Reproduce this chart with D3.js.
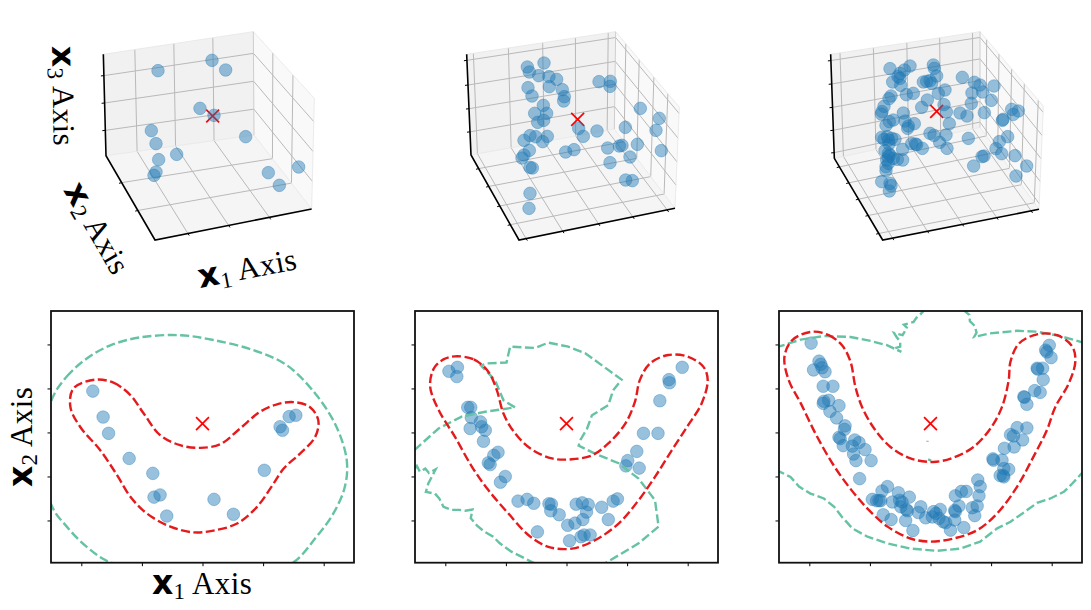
<!DOCTYPE html>
<html>
<head>
<meta charset="utf-8">
<script src="https://cdn.jsdelivr.net/npm/d3@7"></script>
<style>
  html, body { margin: 0; padding: 0; background: #fff; }
  svg { display: block; }
  .serif { font-family: "Liberation Serif", serif; }
  .bold { font-family: "DejaVu Sans", sans-serif; font-weight: bold; }
</style>
</head>
<body>
<svg id="chart" width="1091" height="610"></svg>
<script>
// view coordinates of the three 3D plots (already projected, so two numbers each)
const view1 = [[.474,.212],[.636,.181],[.677,.210],[.600,.325],[.642,.346],[.737,.410],[.454,.392],[.468,.431],[.476,.479],[.530,.463],[.468,.516],[.462,.526],[.805,.518],[.838,.556],[.896,.501]];
const view2 = [[.262,.141],[.312,.129],[.268,.156],[.296,.167],[.327,.170],[.350,.178],[.328,.200],[.264,.203],[.276,.228],[.367,.209],[.373,.230],[.371,.243],[.310,.256],[.284,.280],[.320,.280],[.311,.301],[.293,.307],[.270,.347],[.252,.361],[.287,.350],[.322,.349],[.308,.365],[.268,.391],[.252,.405],[.246,.414],[.270,.442],[.277,.444],[.377,.396],[.402,.389],[.416,.325],[.430,.349],[.471,.333],[.477,.185],[.511,.184],[.510,.199],[.601,.265],[.658,.295],[.648,.331],[.664,.392],[.556,.322],[.592,.373],[.503,.384],[.538,.378],[.546,.376],[.570,.411],[.510,.428],[.557,.480],[.577,.482],[.270,.520],[.267,.565]];
const view3 = [[.240,.146],[.300,.138],[.283,.150],[.270,.160],[.264,.170],[.248,.186],[.272,.196],[.270,.175],[.370,.135],[.373,.145],[.380,.168],[.350,.184],[.340,.186],[.365,.190],[.360,.182],[.457,.172],[.493,.187],[.510,.195],[.552,.198],[.518,.216],[.486,.219],[.544,.241],[.484,.250],[.405,.210],[.385,.220],[.310,.220],[.289,.224],[.243,.228],[.237,.236],[.352,.240],[.335,.262],[.402,.254],[.409,.276],[.222,.259],[.216,.275],[.214,.282],[.280,.279],[.250,.300],[.238,.305],[.285,.303],[.295,.318],[.313,.311],[.293,.325],[.228,.316],[.450,.279],[.471,.288],[.523,.278],[.418,.311],[.605,.268],[.625,.273],[.610,.283],[.579,.298],[.577,.301],[.360,.340],[.372,.346],[.408,.345],[.389,.367],[.411,.385],[.475,.355],[.215,.352],[.232,.350],[.245,.355],[.255,.358],[.236,.360],[.222,.358],[.237,.372],[.225,.392],[.278,.388],[.235,.400],[.240,.405],[.250,.415],[.278,.420],[.262,.418],[.305,.371],[.320,.374],[.337,.385],[.316,.372],[.593,.350],[.568,.365],[.558,.386],[.575,.401],[.615,.407],[.650,.438],[.618,.468],[.522,.408],[.516,.410],[.491,.438],[.230,.420],[.235,.430],[.228,.440],[.228,.452],[.215,.485],[.240,.490],[.238,.513],[.243,.497],[.235,.410]];
const viewCross = [[.638,.348],[.413,.298],[.380,.274]];

// box corners in the same view coordinates: top-left, top-back, floor-left, floor-back, front-right, top-right, front-left
const boxCorners = [
  { A:[.310,.163], B:[.760,.095], C:[.318,.467], G:[.762,.405], E:[.935,.627], H:[.943,.295], D:[.465,.720] },
  { A:[.080,.103], B:[.527,.035], C:[.093,.405], G:[.523,.327], E:[.705,.565], H:[.718,.262], D:[.237,.660] },
  { A:[.062,.103], B:[.510,.035], C:[.073,.415], G:[.510,.322], E:[.687,.568], H:[.700,.258], D:[.218,.660] }
];
const boxTicksX1 = [[.21,.47,.73],[.045,.28,.51,.73,.95],[.0625,.286,.51,.73,.95]];
const boxTicksX2 = [[.32,.65],[.16,.37,.6,.82],[.105,.3,.5,.7,.92]];
const boxTicksX3 = [[.25,.52,.79],[.23,.46,.695,.94],[.055,.27,.49,.715,.94]];

// the 2D plots, x1 and x2
const points1 = [[-1.81,.94],[-1.64,.35],[-1.55,-.02],[-1.21,-.59],[-.82,-.93],[-.70,-1.42],[-.80,-1.47],[-.59,-1.90],[.19,-1.52],[.51,-1.86],[1.02,-.86],[1.28,.13],[1.32,.05],[1.43,.36],[1.54,.39]];
const points2 = [[-1.94,1.39],[-1.80,1.48],[-1.81,1.27],[-1.63,.57],[-1.58,.57],[-1.57,.34],[-1.59,.09],[-1.42,.24],[-1.40,.13],[-1.34,.05],[-1.37,-.20],[-1.13,-.45],[-1.20,-.52],[-1.29,-.69],[-1.26,-.73],[-1.01,-1.00],[-1.09,-1.13],[-.80,-1.56],[-.65,-1.52],[-.54,-1.61],[-.48,-2.26],[-.29,-1.62],[-.25,-1.63],[-.26,-1.78],[-.12,-1.87],[.02,-2.11],[.14,-2.06],[.05,-2.46],[.24,-2.37],[.29,-2.33],[.39,-2.33],[.27,-1.98],[.33,-1.81],[.16,-1.63],[.26,-1.60],[.36,-1.64],[.58,-1.70],[.69,-1.98],[.77,-1.56],[.84,-1.51],[.98,-.76],[1.01,-.64],[1.20,-.81],[1.16,-.43],[1.27,-.02],[1.51,-.02],[1.54,.72],[1.69,1.20],[1.70,1.13],[1.91,1.48]];
const points3 = [[-1.97,2.03],[-1.84,1.62],[-1.81,1.55],[-1.79,1.47],[-1.93,1.42],[-1.74,1.38],[-1.77,1.05],[-1.61,1.05],[-1.76,.71],[-1.68,.73],[-1.77,.66],[-1.51,.61],[-1.66,.48],[-1.55,.33],[-1.41,.15],[-1.42,.07],[-1.51,-.11],[-1.49,-.14],[-1.44,-.30],[-1.25,-.17],[-1.18,-.23],[-1.29,-.31],[-1.08,-.39],[-1.27,-.49],[-1.23,-.64],[-.98,-.64],[-1.17,-1.05],[-.71,-1.23],[-.80,-1.33],[-.96,-1.52],[-.89,-1.55],[-.85,-1.55],[-.82,-1.55],[-.63,-1.58],[-.53,-1.37],[-.35,-1.47],[-.51,-1.54],[-.47,-1.58],[-.49,-1.69],[-.40,-1.75],[-.38,-1.78],[-.78,-1.87],[-.65,-1.98],[-.41,-2.00],[-.29,-2.23],[-.20,-1.82],[-.16,-1.69],[-.08,-1.94],[.05,-1.80],[.16,-1.75],[.09,-1.84],[.03,-1.92],[.14,-1.95],[.21,-2.03],[.25,-2.05],[.33,-2.22],[.40,-1.99],[.41,-1.80],[.40,-1.77],[.47,-1.67],[.55,-2.16],[.41,-1.44],[.51,-1.34],[.59,-1.34],[.78,-1.08],[.82,-1.23],[.80,-1.44],[.69,-1.71],[.77,-1.67],[.73,-1.89],[1.22,-.36],[1.03,-.60],[1.04,-.63],[1.18,-.63],[1.21,-.82],[1.29,-.84],[1.15,-.98],[1.21,-1.01],[1.20,-.98],[1.32,-.05],[1.37,-.08],[1.43,.11],[1.59,.10],[1.52,-.17],[1.38,-.33],[1.54,.81],[1.55,.80],[1.59,.64],[1.72,.95],[1.81,.91],[1.86,1.20],[1.76,1.46],[1.77,1.44],[1.85,1.46],[1.90,1.87],[1.92,1.83],[1.96,1.98],[1.99,1.70]];
const crossPoint = [0, .2];

// red dashed contours
const red1 = [[-1.77,1.20],[-1.47,1.13],[-1.19,.85],[-.97,.43],[-.70,-.06],[-.37,-.29],[-.04,-.35],[.29,-.27],[.62,.09],[.95,.47],[1.23,.64],[1.50,.69],[1.77,.58],[1.91,.28],[1.86,-.10],[1.61,-.48],[1.34,-.82],[1.14,-1.23],[.90,-1.69],[.57,-2.07],[.18,-2.23],[-.15,-2.27],[-.53,-2.14],[-.92,-1.84],[-1.19,-1.46],[-1.41,-.97],[-1.69,-.40],[-2.02,.13],[-2.18,.58],[-2.13,1.00]];
const red2 = [[-1.84,1.73],[-1.53,1.66],[-1.29,1.38],[-1.15,.96],[-1.04,.43],[-.87,.02],[-.60,-.36],[-.24,-.59],[.09,-.61],[.42,-.52],[.69,-.25],[.97,.20],[1.13,.70],[1.21,1.19],[1.38,1.57],[1.68,1.76],[2.01,1.72],[2.26,1.49],[2.33,1.19],[2.23,.66],[2.01,.17],[1.74,-.40],[1.46,-1.01],[1.19,-1.54],[.86,-2.07],[.47,-2.45],[.09,-2.64],[-.30,-2.60],[-.63,-2.33],[-.96,-1.84],[-1.29,-1.31],[-1.56,-.78],[-1.84,-.10],[-2.11,.51],[-2.25,1.04],[-2.19,1.45],[-2.03,1.66]];
const red3 = [[-1.95,2.29],[-1.68,2.21],[-1.46,1.98],[-1.32,1.61],[-1.24,1.04],[-1.13,.58],[-.93,.09],[-.66,-.33],[-.33,-.59],[.05,-.67],[.38,-.57],[.71,-.33],[.99,.09],[1.18,.58],[1.29,1.19],[1.32,1.61],[1.46,2.02],[1.76,2.23],[2.09,2.21],[2.34,1.95],[2.39,1.61],[2.28,1.11],[2.06,.58],[1.92,.05],[1.70,-.55],[1.43,-1.23],[1.10,-1.84],[.77,-2.22],[.38,-2.41],[0,-2.48],[-.33,-2.41],[-.71,-2.14],[-1.04,-1.73],[-1.35,-1.23],[-1.62,-.70],[-1.90,-.02],[-2.14,.66],[-2.34,1.19],[-2.41,1.72],[-2.28,2.10]];

// green dashed contours, some in several pieces
const green1 = [[-2.48,.77],[-2.24,1.27],[-1.91,1.68],[-1.52,1.98],[-1.03,2.16],[-.37,2.21],[.18,2.10],[.84,1.87],[1.39,1.53],[1.88,.85],[2.21,.13],[2.38,-.63],[2.35,-1.23],[2.16,-1.84],[1.88,-2.37],[1.47,-2.98],[.5,-3.4],[-1.47,-2.98],[-1.91,-2.60],[-2.24,-2.14],[-2.48,-1.69],[-2.67,-.48]];
const green2a = [[-2.51,-.40],[-2.11,.09],[-1.73,.36],[-1.34,.47],[-.85,.57],[-1.04,.73],[-1.18,1.19],[-1.41,1.52],[-1.31,1.57],[-.99,1.59],[-.93,1.95],[-.52,1.92],[-.30,2.04],[.03,1.95],[.31,1.80],[.58,1.53],[.91,1.20],[.77,.96],[.69,.62],[.42,.39],[.34,.09],[.23,-.17],[.20,-.30],[.47,-.48],[.86,-.70],[1.19,-1.05],[1.46,-1.54],[1.52,-2.14],[1.19,-2.52],[.91,-2.75],[.58,-3.02]];
const green2b = [[-.52,-2.98],[-.69,-2.86],[-.91,-2.71],[-1.10,-2.52],[-1.21,-2.37],[-1.37,-2.24],[-1.48,-2.11],[-1.58,-1.95],[-1.55,-1.75],[-1.67,-1.78],[-1.77,-1.76],[-1.90,-1.76],[-2.03,-1.69],[-2.10,-1.50],[-2.17,-1.39],[-2.32,-1.35],[-2.28,-1.16],[-2.16,-.84],[-2.27,-.92],[-2.33,-.82],[-2.42,-.89],[-2.47,-.76],[-2.52,-.84]];
const green3a = [[-2.55,1.93],[-2.14,2.11],[-1.76,2.19],[-1.32,2.17],[-.99,2.08],[-.71,1.98],[-.48,1.83],[-.59,1.91],[-.50,1.95],[-.50,2.06],[-.56,2.17],[-.60,2.26],[-.46,2.21],[-.39,2.38],[-.44,2.45],[-.28,2.51],[-.23,2.61],[-.17,2.68],[-.09,2.80]];
const green3b = [[.53,2.80],[.64,2.67],[.65,2.53],[.73,2.42],[.76,2.27],[.72,2.17],[.98,2.25],[1.43,2.31],[1.76,2.29],[2.14,2.19],[2.55,2.03]];
const green3c = [[-2.55,-.85],[-2.31,-1.01],[-2.17,-1.23],[-1.98,-1.39],[-1.76,-1.50],[-1.59,-1.69],[-1.46,-1.92],[-1.29,-2.18],[-1.04,-2.37],[-.71,-2.52],[-.33,-2.64],[.11,-2.69],[.49,-2.64],[.82,-2.48],[1.10,-2.18],[1.32,-2.03],[1.59,-1.77],[1.76,-1.60],[1.98,-1.50],[2.20,-1.35],[2.34,-1.16],[2.55,-.85]];
const green3d = [[-.04,-.61],[.01,-.64]];
const green3e = [[-.05,-.19],[-.05,-.21]];

const tickValues2d = [-2, -1, 0, 1, 2];

const svg = d3.select('#chart');
const BLUE = '#1f77b4', RED = '#e41a1c', GREEN = '#66c2a5';

function cross(g, x, y) {
  g.append('path')
    .attr('d', d3.symbol().type(d3.symbolTimes).size(110)())
    .attr('transform', `translate(${x},${y})`)
    .attr('fill', 'none')
    .attr('stroke', 'red')
    .attr('stroke-width', 1.7);
}

function dots(g, pts, x, y) {
  g.append('g').selectAll('circle')
    .data(pts)
    .join('circle')
    .attr('cx', d => x(d[0]))
    .attr('cy', d => y(d[1]))
    .attr('r', 6.3)
    .attr('fill', BLUE).attr('fill-opacity', .46)
    .attr('stroke', BLUE).attr('stroke-opacity', .35)
    .attr('stroke-width', 1);
}

// label like "x1 Axis": bold sans x, small subscript, serif word
function axisLabel(sel, sub) {
  sel.attr('class', 'serif').attr('font-size', 31).attr('letter-spacing', .4).attr('fill', '#000');
  sel.append('tspan').attr('class', 'bold').attr('font-size', 33).text('x');
  sel.append('tspan').attr('dy', 5).attr('font-size', 23).text(sub);
  sel.append('tspan').attr('dy', -5).text(' Axis');
  return sel;
}

// ---- 3D plots
function bil(p00, p10, p01, p11, s, t) {
  return [0, 1].map(i =>
    (1 - s) * (1 - t) * p00[i] + s * (1 - t) * p10[i] + (1 - s) * t * p01[i] + s * t * p11[i]);
}

function draw3d(ox, oy, pts, idx) {
  const vx = d3.scaleLinear().domain([0, 1]).range([ox, ox + 1000 / 3]);
  const vy = d3.scaleLinear().domain([0, 1]).range([oy, oy + 1000 / 3]);
  const line = d3.line().x(d => vx(d[0])).y(d => vy(d[1]));
  const { A, B, C, G, E, H, D } = boxCorners[idx];
  const g = svg.append('g');

  g.append('path').attr('d', line([A, B, G, C]) + 'Z').attr('fill', '#f1f1f1');
  g.append('path').attr('d', line([B, H, E, G]) + 'Z').attr('fill', '#f9f9f9');
  g.append('path').attr('d', line([C, G, E, D]) + 'Z').attr('fill', '#f5f5f5');

  const segs = [];
  boxTicksX1[idx].forEach(t => {
    segs.push([bil(C, G, A, B, t, 0), bil(C, G, A, B, t, 1)]);     // back wall
    segs.push([bil(C, G, D, E, t, 0), bil(C, G, D, E, t, 1)]);     // floor
  });
  boxTicksX2[idx].forEach(t => {
    segs.push([bil(G, E, B, H, t, 0), bil(G, E, B, H, t, 1)]);     // right wall
    segs.push([bil(C, G, D, E, 0, t), bil(C, G, D, E, 1, t)]);     // floor
  });
  boxTicksX3[idx].forEach(t => {
    segs.push([bil(C, G, A, B, 0, t), bil(C, G, A, B, 1, t)]);     // back wall
    segs.push([bil(G, E, B, H, 0, t), bil(G, E, B, H, 1, t)]);     // right wall
  });
  g.append('g').selectAll('path').data(segs).join('path')
    .attr('d', d => line(d))
    .attr('fill', 'none').attr('stroke', '#b9b9b9').attr('stroke-width', 1);

  // pane edges are much fainter than the grid
  g.append('g').selectAll('path').data([[A, B], [B, H], [H, E], [G, C], [G, E]]).join('path')
    .attr('d', d => line(d))
    .attr('fill', 'none').attr('stroke', '#e6e6e6').attr('stroke-width', .8);
  g.append('path').attr('d', line([B, G]))
    .attr('fill', 'none').attr('stroke', '#c8c8c8').attr('stroke-width', .9);

  // black axes with short ticks
  const ticks = [];
  boxTicksX1[idx].forEach(t => {
    const p = bil(C, G, D, E, t, 1);
    ticks.push([p, [p[0] + .004, p[1] + .006]]);
  });
  boxTicksX2[idx].forEach(t => {
    const p = bil(C, G, D, E, 0, t);
    ticks.push([p, [p[0] - .008, p[1] + .002]]);
  });
  boxTicksX3[idx].forEach(t => {
    const p = bil(C, G, A, B, 0, t);
    ticks.push([p, [p[0] - .009, p[1] + .001]]);
  });
  g.append('g').selectAll('path').data(ticks).join('path')
    .attr('d', d => line(d))
    .attr('stroke', '#000').attr('stroke-width', 1);
  g.append('path').attr('d', line([A, C, D, E]))
    .attr('fill', 'none').attr('stroke', '#000').attr('stroke-width', 1.6);

  cross(g, vx(viewCross[idx][0]), vy(viewCross[idx][1]));
  dots(g, pts, vx, vy);
}

draw3d(0, 0, view1, 0);
draw3d(440, 20, view2, 1);
draw3d(810, 20, view3, 2);

axisLabel(svg.append('text').attr('transform', 'translate(52,46) rotate(89)'), '3');
axisLabel(svg.append('text').attr('transform', 'translate(63,190) rotate(60)'), '2');
axisLabel(svg.append('text').attr('transform', 'translate(200,288) rotate(-11)'), '1');

// ---- 2D plots
function draw2d(left, pts, reds, greens) {
  const width = 303, top = 311, bottom = 562.7;
  const x = d3.scaleLinear().domain([-2.5, 2.5]).range([left, left + width]);
  const y = d3.scaleLinear().domain([-2.96, 2.76]).range([bottom, top]);
  const g = svg.append('g');
  const clipId = 'clip' + left;

  g.append('clipPath').attr('id', clipId).append('rect')
    .attr('x', left).attr('y', top).attr('width', width).attr('height', bottom - top);

  const plot = g.append('g').attr('clip-path', `url(#${clipId})`);
  dots(plot, pts, x, y);
  cross(plot, x(crossPoint[0]), y(crossPoint[1]));

  const closedLine = d3.line().x(d => x(d[0])).y(d => y(d[1])).curve(d3.curveCatmullRomClosed);
  const openLine = d3.line().x(d => x(d[0])).y(d => y(d[1])).curve(d3.curveLinear);

  greens.forEach(c => plot.append('path')
    .attr('d', c.closed ? closedLine(c.pts) : openLine(c.pts))
    .attr('fill', 'none').attr('stroke', GREEN).attr('stroke-width', 2.4)
    .attr('stroke-dasharray', '9,3.5'));
  reds.forEach(c => plot.append('path')
    .attr('d', closedLine(c))
    .attr('fill', 'none').attr('stroke', RED).attr('stroke-width', 2.4)
    .attr('stroke-dasharray', '9,3.5'));

  const xAxis = d3.axisBottom(x).tickValues(tickValues2d).tickFormat('').tickSize(3.5).tickSizeOuter(0);
  const yAxis = d3.axisLeft(y).tickValues(tickValues2d).tickFormat('').tickSize(3.5).tickSizeOuter(0);
  g.append('g').attr('transform', `translate(0,${bottom})`).call(xAxis).call(a => a.select('.domain').remove());
  g.append('g').attr('transform', `translate(${left},0)`).call(yAxis).call(a => a.select('.domain').remove());

  g.append('rect').attr('x', left).attr('y', top).attr('width', width).attr('height', bottom - top)
    .attr('fill', 'none').attr('stroke', '#111').attr('stroke-width', 1.8);
}

draw2d(51, points1, [red1], [{ pts: green1, closed: true }]);
draw2d(415, points2, [red2], [{ pts: green2a }, { pts: green2b }]);
draw2d(779, points3, [red3], [{ pts: green3a }, { pts: green3b }, { pts: green3c }, { pts: green3d }, { pts: green3e }]);

axisLabel(svg.append('text').attr('text-anchor', 'middle').attr('transform', 'translate(202,594)'), '1');
axisLabel(svg.append('text').attr('text-anchor', 'middle').attr('transform', 'translate(32,437) rotate(-90)'), '2');
</script>
</body>
</html>
